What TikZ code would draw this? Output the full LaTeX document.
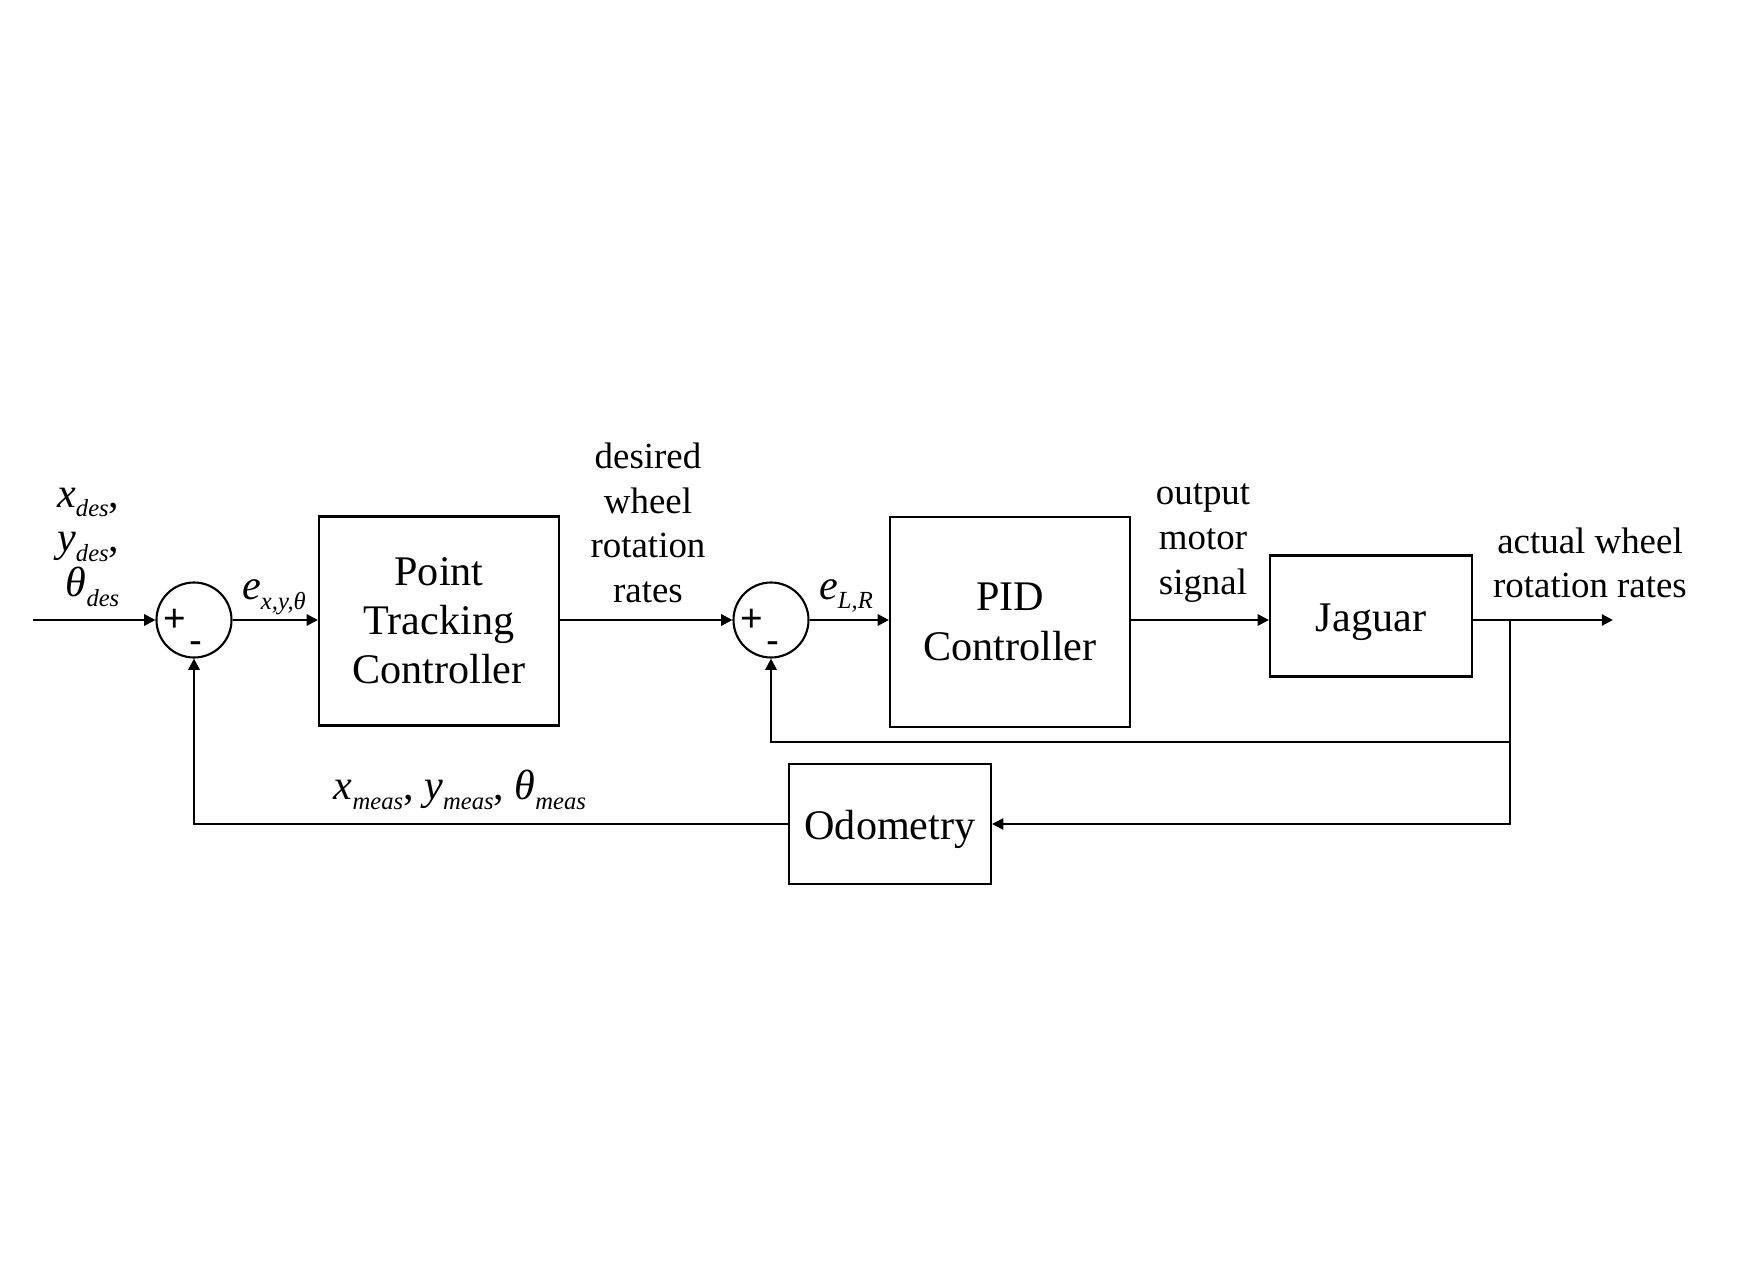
\documentclass[tikz,border=0pt]{standalone}
\usepackage{fontspec}
\setmainfont{Liberation Serif}
\newfontfamily\signfont{Liberation Sans}
\usepackage{tikz}
\usetikzlibrary{arrows.meta, positioning, calc}

% italic variable with italic subscript
\newcommand{\vsub}[2]{\textit{#1}\raisebox{-0.5ex}{\fontsize{7}{7}\selectfont\textit{#2}}}

\begin{document}
\begin{tikzpicture}[
    block/.style={draw, line width=0.6pt, minimum width=#1, align=center,
                  execute at begin node={\rule{0pt}{11.5pt}},
                  font=\fontsize{12}{14}\selectfont},
    block/.default=2.4cm,
    sumnode/.style={draw, circle, line width=0.6pt, minimum size=0.75cm, inner sep=0pt},
    sig/.style={line width=0.6pt, -{Triangle[length=3.2pt, width=3.2pt]}},
    lbl/.style={align=center, font=\fontsize{10.5}{12.7}\selectfont},
    var/.style={font=\fontsize{12}{12.7}\selectfont},
]
    \useasboundingbox (0,0) rectangle (17.37,12.75);

    % forward path
    \coordinate (in) at (0.33, 6.55);
    \node[sumnode] (sum1) at (1.94, 6.55) {};
    \node[block, minimum height=2.09cm] (ptc) at (4.39, 6.54) {Point\\Tracking\\Controller};
    \node[sumnode] (sum2) at (7.71, 6.55) {};
    \node[block, minimum height=2.10cm] (pid) at (10.10, 6.53) {PID\\Controller};
    \node[block=2.02cm, minimum height=1.21cm] (jag) at (13.71, 6.59) {Jaguar};
    \coordinate (out) at (16.13, 6.55);
    \node[block=2.02cm, minimum height=1.20cm] (odo) at (8.90, 4.51) {Odometry};

    % signs in the summing junctions
    \foreach \s in {sum1, sum2} {
        \node[font=\signfont\fontsize{11}{11}\selectfont, inner sep=0pt] at ($(\s)+(-0.19,0)$) {+};
        \node[font=\signfont\fontsize{11}{11}\selectfont, inner sep=0pt] at ($(\s)+(0.02,-0.28)$) {-};
    }

    \draw[sig] (in) -- (sum1);
    \draw[sig] (sum1) -- (sum1 -| ptc.west);
    \draw[sig] (sum1 -| ptc.east) -- (sum2);
    \draw[sig] (sum2) -- (sum2 -| pid.west);
    \draw[sig] (sum2 -| pid.east) -- (sum2 -| jag.west);
    \draw[sig] (sum2 -| jag.east) -- (out);

    % feedback paths
    \coordinate (br) at (15.10, 6.55);
    \coordinate (fb) at (15.10, 5.33);
    \draw[sig] (br) |- (odo);
    \draw[sig] (fb) -| (sum2);
    \draw[sig] (odo) -| (sum1);

    % signal labels
    \node[var, align=right, anchor=east, inner sep=0pt] (ref) at (1.20, 7.28)
        {\vsub{x}{des},\\ \vsub{y}{des},\\ \vsub{θ}{des}};
    \node[var] (exy) at (2.74, 6.78) {\vsub{e}{x,y,θ}};
    \node[lbl] (dwr) at (6.48, 7.52) {desired\\wheel\\rotation\\rates};
    \node[var] (elr) at (8.46, 6.79) {\vsub{e}{L,R}};
    \node[lbl] (oms) at (12.03, 7.32) {output\\motor\\signal};
    \node[lbl] (awr) at (15.90, 7.12) {actual wheel\\rotation rates};
    \node[var] (meas) at (4.60, 4.85)
        {\vsub{x}{meas}, \vsub{y}{meas}, \vsub{θ}{meas}};
\end{tikzpicture}
\end{document}
